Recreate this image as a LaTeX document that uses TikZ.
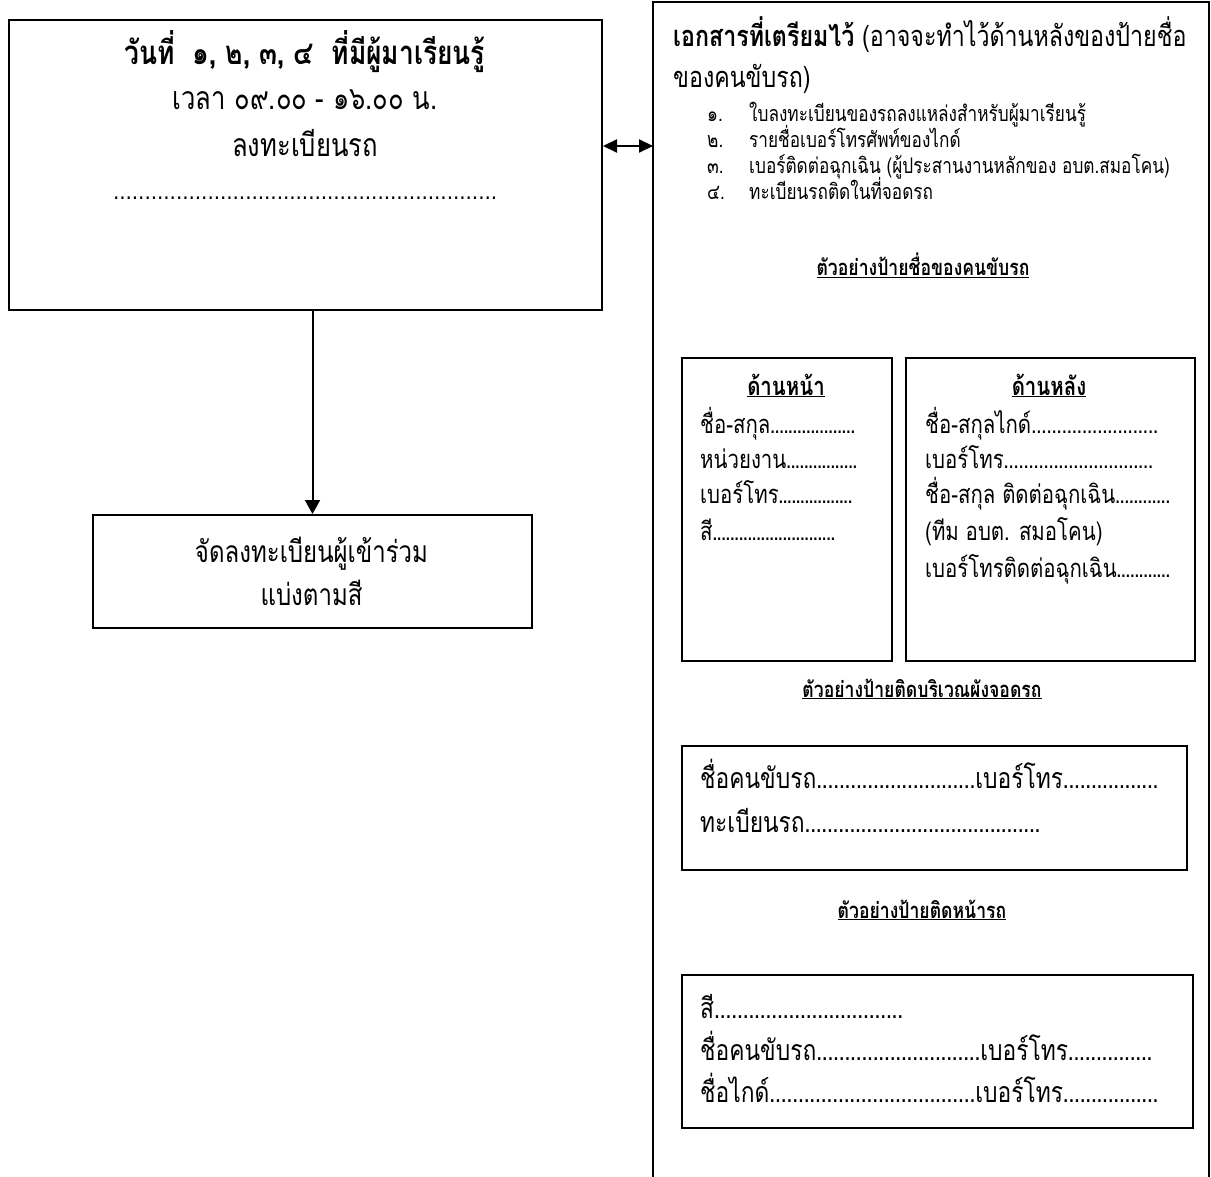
\documentclass[tikz,border=0pt]{standalone}
\usepackage{fontspec}
\setmainfont[Script=Thai,FakeStretch=0.8]{Loma}
\usetikzlibrary{arrows.meta}
% dotted leader of given width and dot pitch
\newcommand{\dl}[2]{\hbox to #1pt{\xleaders\hbox to #2pt{\hss.\hss}\hfill}}
% text followed by dots, whole box of given width
\newcommand{\dt}[3]{\hbox to #1pt{#3\xleaders\hbox to #2pt{\hss.\hss}\hfill}}
\newcommand{\fs}[1]{\fontsize{#1}{#1}\selectfont}
\newcommand{\ul}[1]{\underline{#1}}
\tikzset{
  box/.style={draw, line width=2pt, inner sep=0pt, anchor=north west},
  txt/.style={inner sep=0pt, anchor=base west},
  ctr/.style={inner sep=0pt, anchor=base},
  conn/.style={line width=2pt},
}
\begin{document}
\begin{tikzpicture}[x=1pt,y=-1pt]
\useasboundingbox (0,0) rectangle (1211,1177);
% left box
\node[box, minimum width=593pt, minimum height=290pt] (reg) at (8,19) {};
\node[ctr] (reg1) at (305,65) {\fs{33}\bfseries วันที่\ \ ๑, ๒, ๓, ๔\ \ ที่มีผู้มาเรียนรู้};
\node[ctr] (reg2) at (305,110) {\fs{32}เวลา ๐๙.๐๐ - ๑๖.๐๐ น.};
\node[ctr] (reg3) at (305,157) {\fs{32}ลงทะเบียนรถ};
\node[ctr] (reg4) at (305,200) {\fs{26}\dl{384}{6.2}};
% lower box
\node[box, minimum width=439pt, minimum height=113pt] (sort) at (92,514) {};
\node[ctr] (sort1) at (311.5,562) {\fs{30}จัดลงทะเบียนผู้เข้าร่วม};
\node[ctr] (sort2) at (311.5,605) {\fs{30}แบ่งตามสี};
% right big box (open at the bottom, runs past the page)
\node[inner sep=0pt, anchor=north west, minimum width=556pt, minimum height=1176pt] (docs) at (653,2) {};
\draw[conn] (docs.south west) |- (docs.north east) -- (docs.south east);
\node[txt] (h1) at (673,47) {\fs{29}\textbf{เอกสารที่เตรียมไว้} (อาจจะทำไว้ด้านหลังของป้ายชื่อ};
\node[txt] (h2) at (673,88) {\fs{29}ของคนขับรถ)};
\node[txt] (n1) at (707,122) {\fs{21.5}๑.};
\node[txt] (i1) at (749,122) {\fs{21.5}ใบลงทะเบียนของรถลงแหล่งสำหรับผู้มาเรียนรู้};
\node[txt] (n2) at (707,148) {\fs{21.5}๒.};
\node[txt] (i2) at (749,148) {\fs{21.5}รายชื่อเบอร์โทรศัพท์ของไกด์};
\node[txt] (n3) at (707,174) {\fs{21.5}๓.};
\node[txt] (i3) at (749,174) {\fs{21.5}เบอร์ติดต่อฉุกเฉิน (ผู้ประสานงานหลักของ อบต.สมอโคน)};
\node[txt] (n4) at (707,200) {\fs{21.5}๔.};
\node[txt] (i4) at (749,200) {\fs{21.5}ทะเบียนรถติดในที่จอดรถ};
\node[ctr] (s1) at (923,276) {\fs{22}\bfseries\ul{ตัวอย่างป้ายชื่อของคนขับรถ}};
% front / back badge
\node[box, minimum width=210pt, minimum height=303pt] (front) at (681,357) {};
\node[ctr] (f0) at (786,395) {\fs{25.5}\bfseries\ul{ด้านหน้า}};
\node[txt] (f1) at (700,433) {\fs{25.5}\dt{155}{4.3}{ชื่อ-สกุล}};
\node[txt] (f2) at (700,468) {\fs{25.5}\dt{157}{4.3}{หน่วยงาน}};
\node[txt] (f3) at (700,503) {\fs{25.5}\dt{152}{4.3}{เบอร์โทร}};
\node[txt] (f4) at (700,540) {\fs{25.5}\dt{135}{4.3}{สี}};
\node[box, minimum width=289pt, minimum height=303pt] (back) at (905,357) {};
\node[ctr] (b0) at (1049,395) {\fs{25.5}\bfseries\ul{ด้านหลัง}};
\node[txt] (b1) at (925,433) {\fs{25.5}\dt{233}{4.9}{ชื่อ-สกุลไกด์}};
\node[txt] (b2) at (925,468) {\fs{25.5}\dt{228}{4.9}{เบอร์โทร}};
\node[txt] (b3) at (925,503) {\fs{25.5}\dt{245}{4.3}{ชื่อ-สกุล ติดต่อฉุกเฉิน}};
\node[txt] (b4) at (925,540) {\fs{25.5}(ทีม อบต. สมอโคน)};
\node[txt] (b5) at (925,577) {\fs{25.5}\dt{245}{4.3}{เบอร์โทรติดต่อฉุกเฉิน}};
% parking sign
\node[ctr] (s2) at (922,697) {\fs{22}\bfseries\ul{ตัวอย่างป้ายติดบริเวณผังจอดรถ}};
\node[box, minimum width=505pt, minimum height=124pt] (park) at (681,745) {};
\node[txt] (p1) at (700,788) {\fs{28.5}\dt{275}{5.6}{ชื่อคนขับรถ}\dt{183}{5.6}{เบอร์โทร}};
\node[txt] (p2) at (700,832) {\fs{28.5}\dt{340}{5.6}{ทะเบียนรถ}};
% front-of-car sign
\node[ctr] (s3) at (922,918) {\fs{22}\bfseries\ul{ตัวอย่างป้ายติดหน้ารถ}};
\node[box, minimum width=511pt, minimum height=153pt] (car) at (681,974) {};
\node[txt] (c1) at (700,1018) {\fs{28.5}\dt{203}{5.6}{สี}};
\node[txt] (c2) at (700,1060) {\fs{28.5}\dt{280}{5.6}{ชื่อคนขับรถ}\dt{172}{5.6}{เบอร์โทร}};
\node[txt] (c3) at (700,1102) {\fs{28.5}\dt{275}{5.6}{ชื่อไกด์}\dt{183}{5.6}{เบอร์โทร}};
% connectors
\coordinate (ay) at (0,146);
\draw[conn, {Triangle[length=14pt,width=13pt]}-{Triangle[length=14pt,width=13pt]}] (reg.east |- ay) -- (docs.west |- ay);
\draw[conn, -{Triangle[length=14pt,width=15pt]}] (reg.south -| sort.north) -- (sort.north);
\end{tikzpicture}
\end{document}
